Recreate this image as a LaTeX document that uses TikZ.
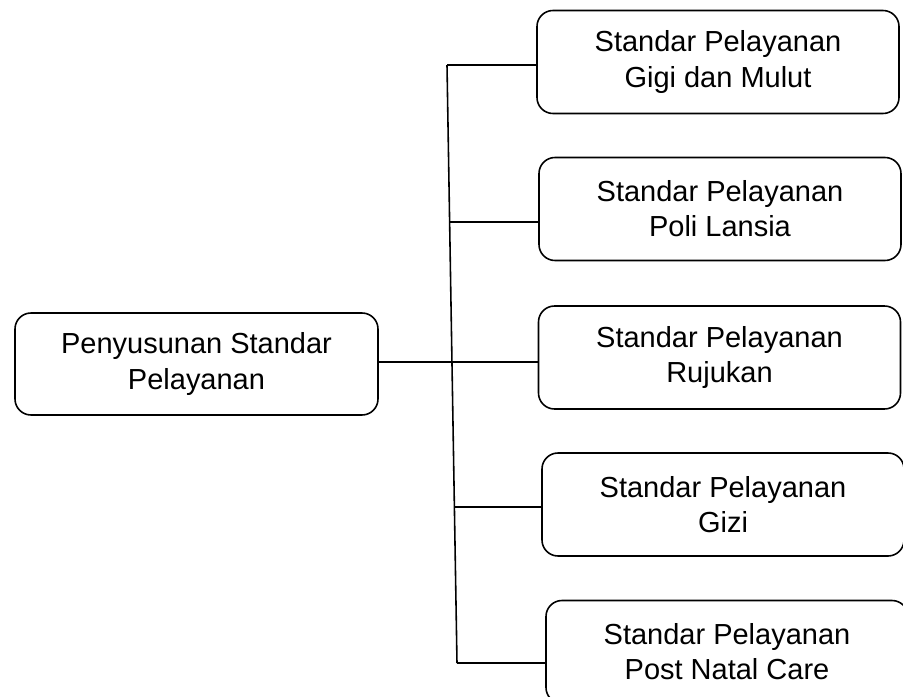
\documentclass[tikz,border=0pt]{standalone}
\usepackage{fontspec}
\setmainfont{Liberation Sans}
\usetikzlibrary{positioning}

\tikzset{
	kotak/.style={draw, line width=0.9pt, rounded corners=0.32cm, minimum width=7.24cm, minimum height=2.06cm, align=center, font=\fontsize{16.5}{20}\selectfont},
	garis/.style={line width=0.9pt}
}

\begin{document}
\begin{tikzpicture}
	\useasboundingbox (0,0) rectangle (18.06,-13.94);
	\node [kotak, minimum width=7.26cm, minimum height=2.04cm] (induk) at (3.93,-7.28) {Penyusunan Standar\\Pelayanan};
	\node [kotak] (gigi) at (14.36,-1.24) {Standar Pelayanan\\Gigi dan Mulut};
	\node [kotak] (lansia) at (14.4,-4.18) {Standar Pelayanan\\Poli Lansia};
	\node [kotak] (rujukan) at (14.39,-7.15) {Standar Pelayanan\\Rujukan};
	\node [kotak] (gizi) at (14.46,-10.09) {Standar Pelayanan\\Gizi};
	\node [kotak] (natal) at (14.54,-13.04) {Standar Pelayanan\\Post Natal Care};
	% titik pada garis tegak
	\coordinate (t1) at (8.94,-1.30);
	\coordinate (t2) at (8.98,-4.44);
	\coordinate (t3) at (9.04,-7.24);
	\coordinate (t4) at (9.08,-10.14);
	\coordinate (t5) at (9.14,-13.26);
	\draw [garis] (t1) -- (t5);
	\draw [garis] (t1) -- (t1 -| gigi.west);
	\draw [garis] (t2) -- (t2 -| lansia.west);
	\draw [garis] (induk.east |- t3) -- (t3 -| rujukan.west);
	\draw [garis] (t4) -- (t4 -| gizi.west);
	\draw [garis] (t5) -- (t5 -| natal.west);
\end{tikzpicture}
\end{document}
